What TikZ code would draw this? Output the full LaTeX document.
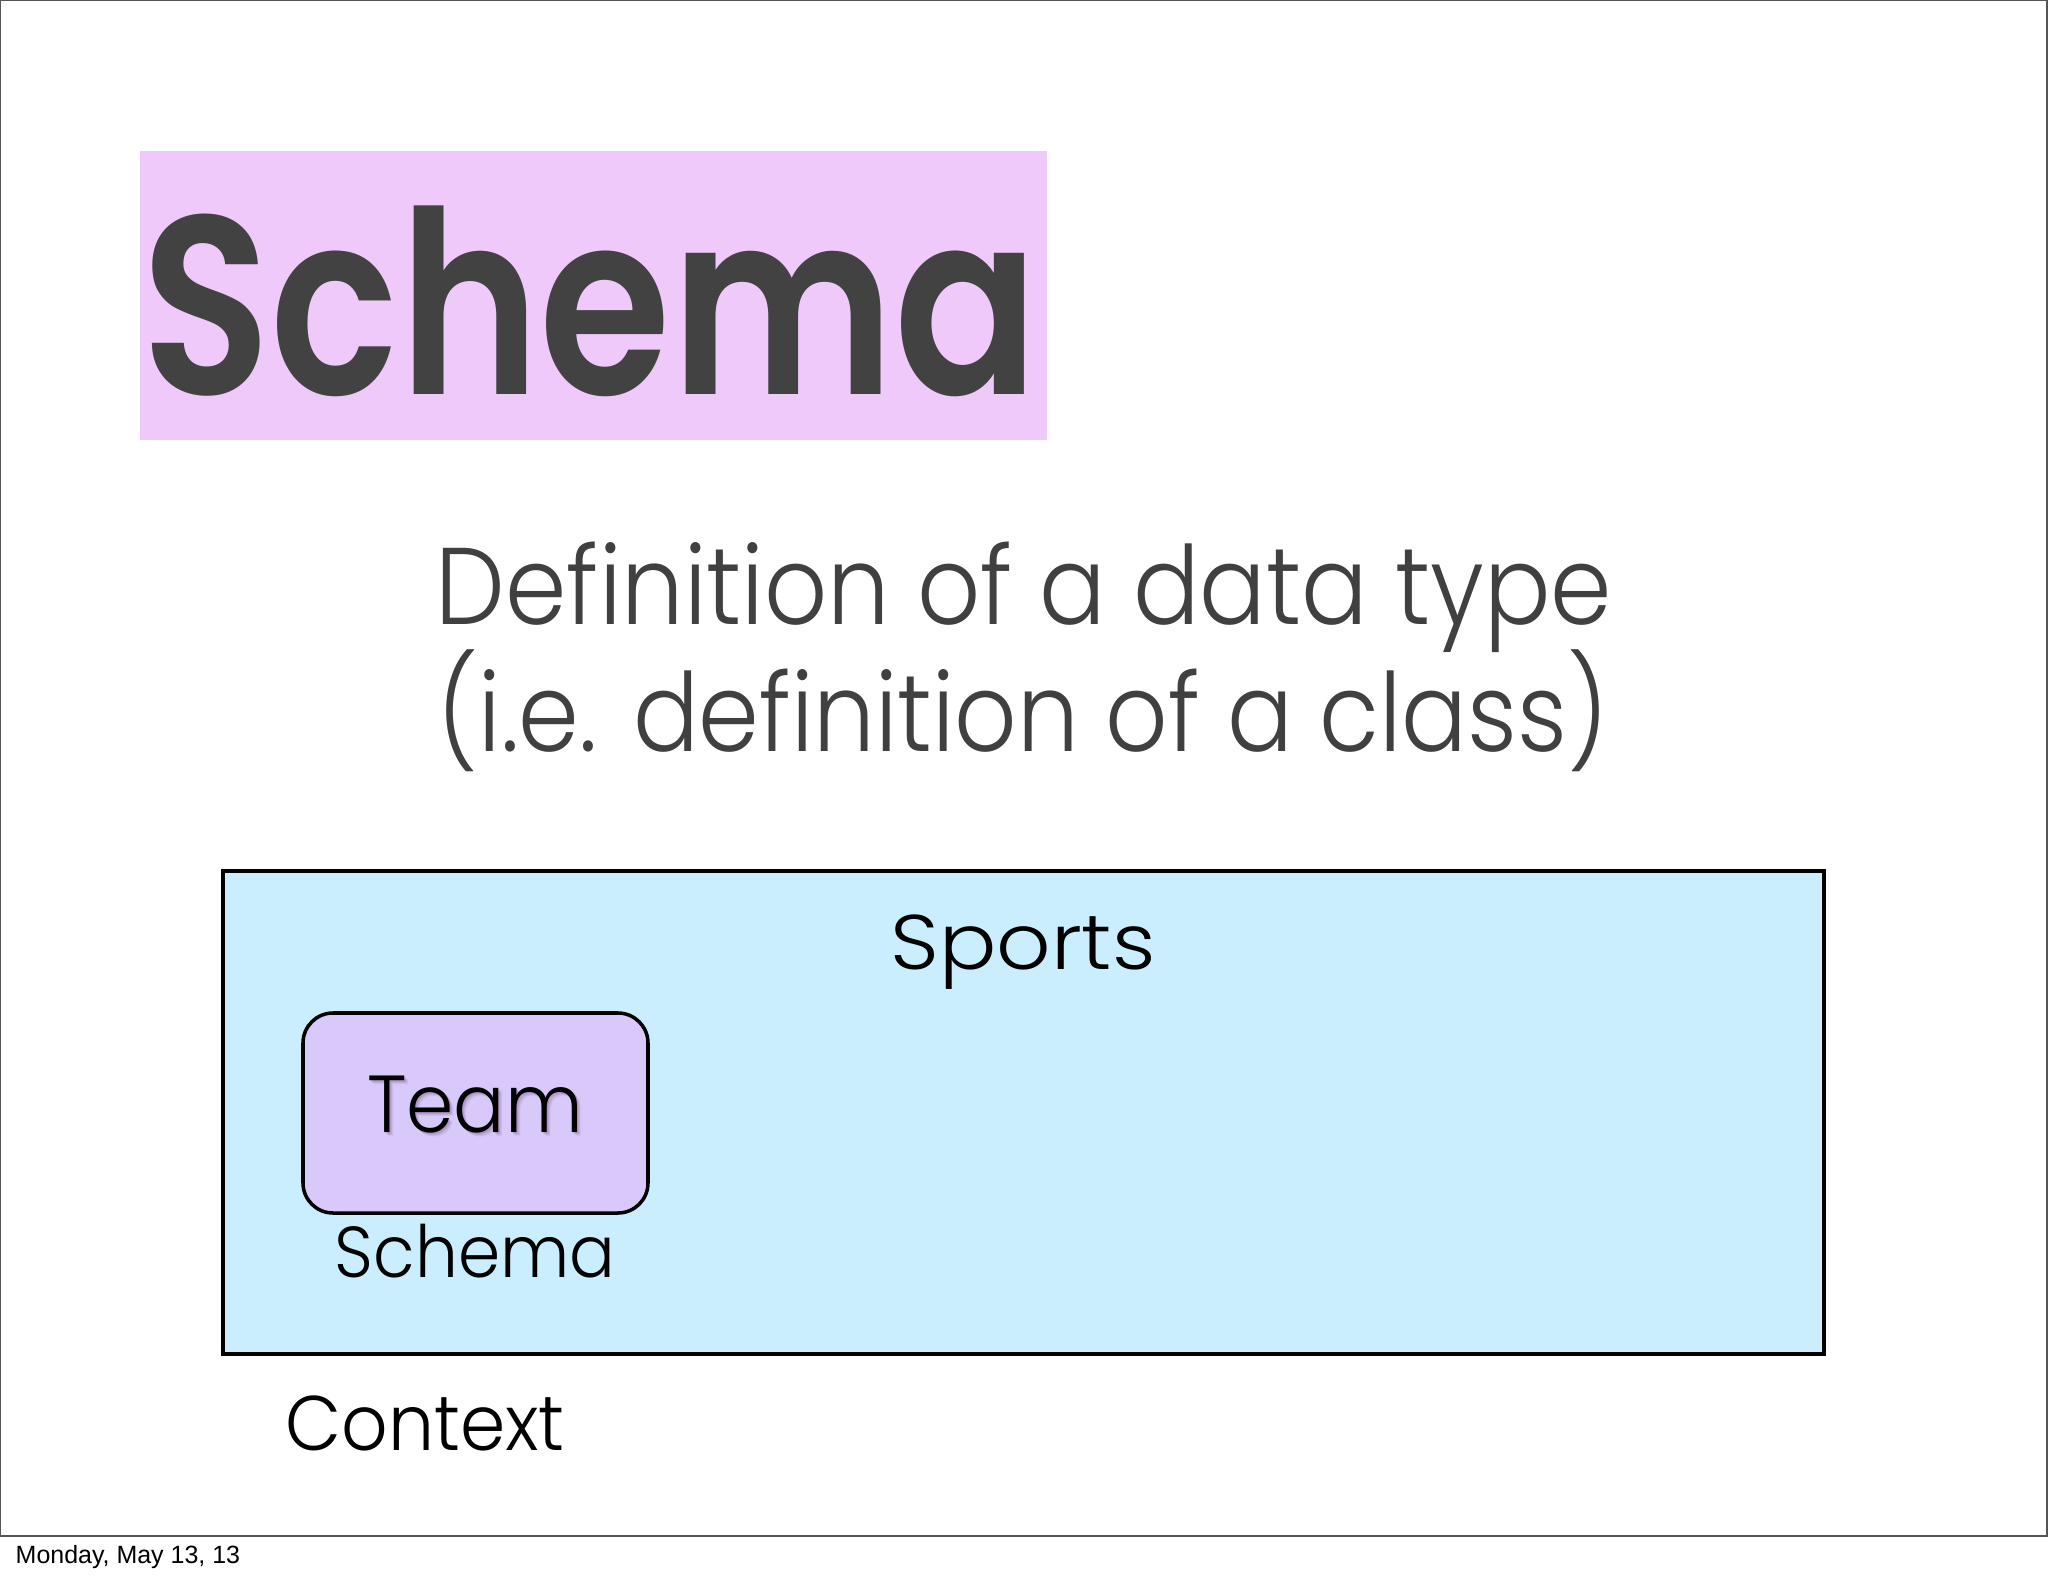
\documentclass[tikz,border=0pt]{standalone}
\usepackage{fontspec}
\newfontfamily\lightf{Poppins Light}
\newfontfamily\titlef{Poppins SemiBold}
\newfontfamily\helv{Liberation Sans}
\definecolor{pinkbg}{RGB}{240,201,251}
\definecolor{bluebg}{RGB}{202,238,253}
\definecolor{lavbg}{RGB}{217,201,251}
\definecolor{titlegray}{RGB}{66,66,66}
\definecolor{textgray}{RGB}{64,64,64}
\definecolor{framegray}{RGB}{85,85,85}
\tikzset{
  lbl/.style={anchor=base, inner sep=0pt, text=black},
  boxline/.style={draw=black, line width=1pt},
}
\begin{document}
\begin{tikzpicture}[x=0.01cm, y=-0.01cm]
\useasboundingbox (0,0) rectangle (2048,1576);
\fill[white] (0,0) rectangle (2048,1576);
% slide frame
\draw[framegray, line width=0.8pt] (0,0) rectangle (2047,1536);
% title
\fill[pinkbg] (140,151) rectangle (1047,440);
\node[anchor=base, inner sep=0pt, text=titlegray, font=\titlef\fontsize{72.5}{72.5}\selectfont, xscale=0.835] (title) at (590,394) {Schema};
% subtitle
\node[anchor=base, inner sep=0pt, text=textgray, font=\lightf\fontsize{31}{36}\selectfont, xscale=0.905] (def1) at (1024,624) {Definition of a data type};
\node[anchor=base, inner sep=0pt, text=textgray, font=\lightf\fontsize{31}{36}\selectfont, xscale=0.895] (def2) at (1023,751) {(i.e. definition of a class)};
% context box
\fill[bluebg] (223,871) rectangle (1824,1354);
\draw[boxline] (223,871) rectangle (1824,1354);
\node[lbl, font=\lightf\fontsize{22}{22}\selectfont, xscale=1.1] (sports) at (1023,969) {Sports};
% team schema
\draw[boxline, fill=lavbg, rounded corners=0.3cm] (303,1013) rectangle (648,1213);
\foreach \d/\o in {4/0.05,3/0.07,2/0.09,1/0.1}{
  \node[lbl, text=violet!40!black, opacity=\o, font=\lightf\fontsize{23}{23}\selectfont, xscale=0.94] at (475+\d,1132+\d) {Team};
}
\node[lbl, font=\lightf\fontsize{23}{23}\selectfont, xscale=0.94] (team) at (475,1132) {Team};
\node[lbl, font=\lightf\fontsize{20.5}{20.5}\selectfont, xscale=0.94] (schema) at (475,1277) {Schema};
\node[lbl, font=\lightf\fontsize{22}{22}\selectfont, xscale=0.94] (context) at (425,1450) {Context};
% date
\node[anchor=base west, inner sep=0pt, text=black, font=\helv\fontsize{7.1}{7.1}\selectfont] (date) at (15,1563) {Monday, May 13, 13};
\end{tikzpicture}
\end{document}
